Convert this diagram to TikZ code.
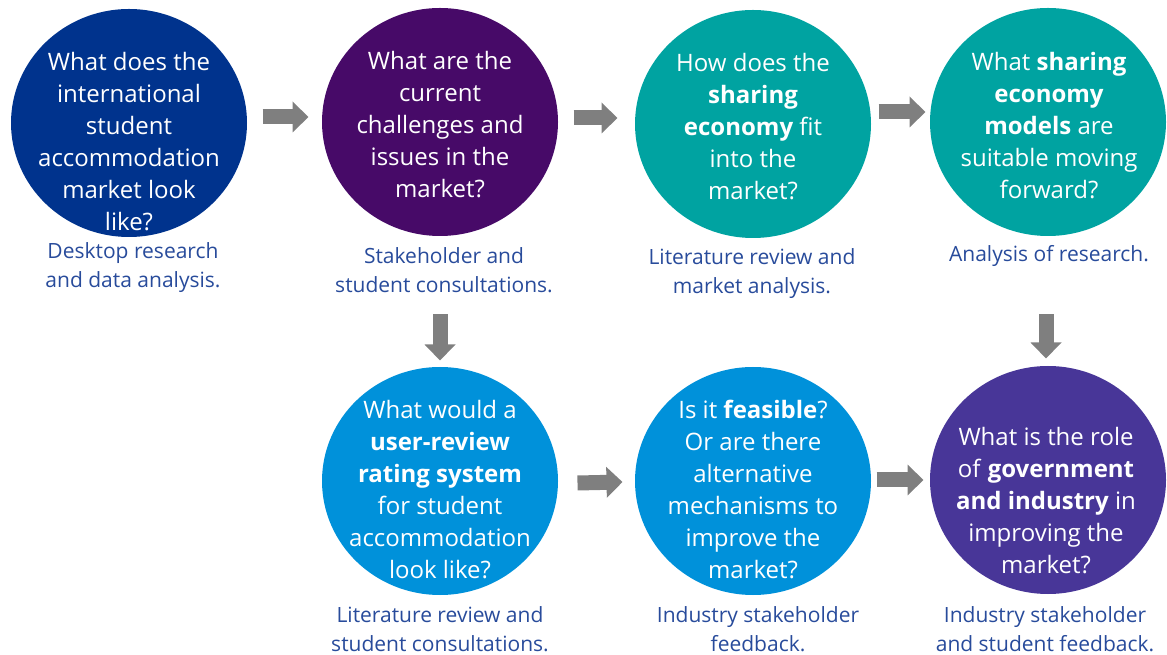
\documentclass[tikz,border=0pt]{standalone}
\usepackage{fontspec}
\setmainfont{Open Sans}
\usetikzlibrary{arrows.meta,shapes.geometric,calc}

\definecolor{qdarkblue}{RGB}{0,51,141}
\definecolor{qpurple}{RGB}{71,10,104}
\definecolor{qteal}{RGB}{0,163,161}
\definecolor{qblue}{RGB}{0,145,218}
\definecolor{qviolet}{RGB}{72,54,152}
\definecolor{flowgray}{RGB}{127,127,127}
\definecolor{methodblue}{RGB}{40,75,155}

\tikzset{every picture/.style={line width=0.75pt}}
\tikzset{
  bubble/.style={ellipse, draw=none, minimum width=177pt, minimum height=171pt, inner sep=0pt},
  qtext/.style={text=white, align=center, inner sep=0pt, font=\fontsize{18}{24}\selectfont},
  method/.style={text=methodblue, align=center, inner sep=0pt, font=\fontsize{15.75}{21.75}\selectfont},
  flow/.style={draw=flowgray, line width=11.25pt, -{Triangle[length=12pt,width=22.5pt]}}
}

\begin{document}
\begin{tikzpicture}[x=0.75pt,y=0.75pt,yscale=-1,xscale=1]
	\useasboundingbox (0,0) rectangle (1167,655);

	%Shape: Circles
	\node[bubble, fill=qdarkblue] (q1) at (129,123) {};
	\node[bubble, fill=qpurple] (q2) at (440,122) {};
	\node[bubble, fill=qteal] (q3) at (753,124) {};
	\node[bubble, fill=qteal] (q4) at (1048,122) {};
	\node[bubble, fill=qblue] (q5) at (440,481) {};
	\node[bubble, fill=qblue] (q6) at (753,481) {};
	\node[bubble, fill=qviolet] (q7) at (1048,480) {};

	%Straight Lines: block arrows
	\draw[flow] ($(q1.east)+(15,-6)$) -- ($(q2.west)+(-13,-5)$);
	\draw[flow] ($(q2.east)+(15,-4)$) -- ($(q3.west)+(-17,-6)$);
	\draw[flow] ($(q3.east)+(7,-12)$) -- ($(q4.west)+(-4,-10)$);
	\draw[flow] ($(q2.south)+(0,78)$) -- ($(q5.north)+(0,-6)$);
	\draw[flow] ($(q4.south)+(-2,78)$) -- ($(q7.north)+(-2,-7)$);
	\draw[flow] ($(q5.east)+(19,2)$) -- ($(q6.west)+(-12,1)$);
	\draw[flow] ($(q6.east)+(5,-1)$) -- ($(q7.west)+(-6,0)$);

	% Text Node
	\node[qtext] (t1) at (129,142) {What does the\\international\\student\\accommodation\\market look\\like?};
	% Text Node
	\node[qtext] (t2) at (440,125) {What are the\\current\\challenges and\\issues in the\\market?};
	% Text Node
	\node[qtext] (t3) at (753,127) {How does the\\\textbf{sharing}\\\textbf{economy} fit\\into the\\market?};
	% Text Node
	\node[qtext] (t4) at (1049,126) {What \textbf{sharing}\\\textbf{economy}\\\textbf{models} are\\suitable moving\\forward?};
	% Text Node
	\node[qtext] (t5) at (440,490) {What would a\\\textbf{user-review}\\\textbf{rating system}\\for student\\accommodation\\look like?};
	% Text Node
	\node[qtext] (t6) at (753,489) {Is it \textbf{feasible}?\\Or are there\\alternative\\mechanisms to\\improve the\\market?};
	% Text Node
	\node[qtext] (t7) at (1046,501) {What is the role\\of \textbf{government}\\\textbf{and industry} in\\improving the\\market?};

	% Text Node
	\node[method] (l1) at (133,268) {Desktop research\\and data analysis.};
	% Text Node
	\node[method] (l2) at (444,270) {Stakeholder and\\student consultations.};
	% Text Node
	\node[method] (l3) at (752,274) {Literature review and\\market analysis.};
	% Text Node
	\node[method] (l4) at (1049,256) {Analysis of research.};
	% Text Node
	\node[method] (l5) at (440,629) {Literature review and\\student consultations.};
	% Text Node
	\node[method] (l6) at (758,629) {Industry stakeholder\\feedback.};
	% Text Node
	\node[method] (l7) at (1045,629) {Industry stakeholder\\and student feedback.};

\end{tikzpicture}
\end{document}
